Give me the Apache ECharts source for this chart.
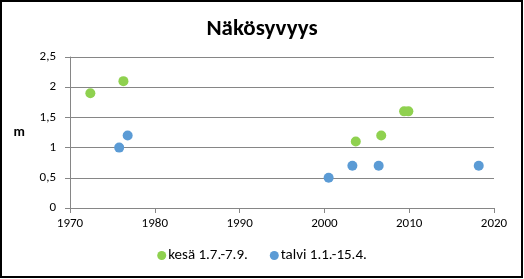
<!DOCTYPE html>
<html>
<head>
<meta charset="utf-8">
<script src="https://cdn.jsdelivr.net/npm/echarts@6/dist/echarts.min.js"></script>
<style>
html,body{margin:0;padding:0;background:#fff;}
#c{width:524px;height:279px;}
</style>
</head>
<body>
<div id="c"></div>
<script>
var titleText = 'Näkösyvyys';
var yName = 'm';
var kesaName = 'kesä 1.7.-7.9.';
var talviName = 'talvi 1.1.-15.4.';
var kesaYears = [1972.4, 1976.3, 2003.7, 2006.7, 2009.4, 2009.9];
var kesaValues = [1.9, 2.1, 1.1, 1.2, 1.6, 1.6];
var talviYears = [1975.8, 1976.8, 2000.5, 2003.3, 2006.4, 2018.2];
var talviValues = [1.0, 1.2, 0.5, 0.7, 0.7, 0.7];

function pairs(xs, ys){ return xs.map(function(x,i){ return [x, ys[i]]; }); }

var font = 'Carlito, Calibri, Lato, "Noto Sans", sans-serif';
var chart = echarts.init(document.getElementById('c'), null, {renderer:'canvas'});
chart.setOption({
  animation:false,
  backgroundColor:'#fff',
  title:{text:titleText, left:'center', top:13,
    textStyle:{fontFamily:font, fontSize:23, fontWeight:'bold', color:'#000'}},
  legend:{bottom:11, left:'center', itemWidth:9, itemHeight:9, itemGap:22,
    icon:'circle',
    textStyle:{fontFamily:font, fontSize:15, color:'#000', padding:[0,0,0,-3]},
    data:[kesaName, talviName]},
  grid:{left:70, right:30, top:57, bottom:71},
  xAxis:{type:'value', min:1970, max:2020, interval:10,
    axisLine:{lineStyle:{color:'#868686'}},
    axisTick:{show:true, length:5, lineStyle:{color:'#868686'}},
    splitLine:{show:false},
    axisLabel:{fontFamily:font, fontSize:13, color:'#000', margin:9,
      formatter:function(v){ return String(v); }}},
  yAxis:{type:'value', min:0, max:2.5, interval:0.5,
    name:yName, nameLocation:'middle', nameGap:45, nameRotate:0,
    nameTextStyle:{fontFamily:font, fontSize:14, fontWeight:'bold', color:'#000'},
    axisLine:{show:true, lineStyle:{color:'#868686'}},
    axisTick:{show:true, length:5, lineStyle:{color:'#868686'}},
    splitLine:{lineStyle:{color:'#868686'}},
    axisLabel:{fontFamily:font, fontSize:13, color:'#000', margin:14,
      formatter:function(v){ return String(v).replace('.', ','); }}},
  series:[
    {name:kesaName, type:'scatter', symbolSize:10, itemStyle:{color:'#8fd14f', opacity:1},
      data:pairs(kesaYears, kesaValues)},
    {name:talviName, type:'scatter', symbolSize:10, itemStyle:{color:'#5b9bd5', opacity:1},
      data:pairs(talviYears, talviValues)}
  ],
  graphic:[{type:'rect', shape:{x:1, y:1, width:521, height:276},
    style:{fill:'none', stroke:'#000', lineWidth:2}, silent:true}]
});
</script>
</body>
</html>
